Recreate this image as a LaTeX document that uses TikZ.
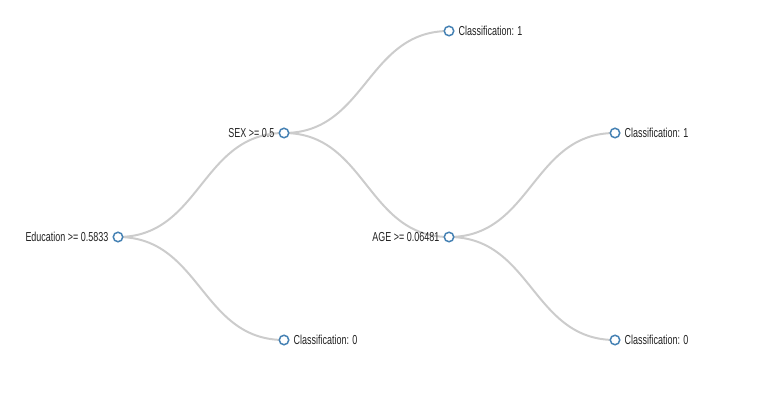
\documentclass[tikz,border=0pt]{standalone}
\usepackage{fontspec}
\setmainfont{Liberation Sans}[FakeStretch=0.69]
\definecolor{steel}{HTML}{4682B4}
\definecolor{linkgray}{HTML}{CCCCCC}
\definecolor{txt}{HTML}{222222}
\tikzset{
  circ/.style={circle, draw=steel, fill=white, line width=1.5pt, minimum size=9.5pt, inner sep=0pt},
  link/.style={draw=linkgray, line width=2pt},
  lblr/.style={anchor=base west, inner sep=0pt, font=\fontsize{13}{15}\selectfont, text=txt},
  lbll/.style={anchor=base east, inner sep=0pt, font=\fontsize{13}{15}\selectfont, text=txt},
}
\begin{document}
\begin{tikzpicture}[x=1pt, y=-1pt]
\useasboundingbox (0,0) rectangle (758,414);
% node positions
\coordinate (pr) at (118,237);
\coordinate (ps) at (284,133);
\coordinate (pc0) at (284,340);
\coordinate (pc1) at (449,31);
\coordinate (pa) at (449,237);
\coordinate (pc2) at (615,133);
\coordinate (pc3) at (615,340);
% links
\draw[link] (pr) .. controls +(83,0) and +(-83,0) .. (ps);
\draw[link] (pr) .. controls +(83,0) and +(-83,0) .. (pc0);
\draw[link] (ps) .. controls +(82.5,0) and +(-82.5,0) .. (pc1);
\draw[link] (ps) .. controls +(82.5,0) and +(-82.5,0) .. (pa);
\draw[link] (pa) .. controls +(83,0) and +(-83,0) .. (pc2);
\draw[link] (pa) .. controls +(83,0) and +(-83,0) .. (pc3);
% circles
\node[circ] (r) at (pr) {};
\node[circ] (s) at (ps) {};
\node[circ] (c0) at (pc0) {};
\node[circ] (c1) at (pc1) {};
\node[circ] (a) at (pa) {};
\node[circ] (c2) at (pc2) {};
\node[circ] (c3) at (pc3) {};
% labels
\node[lbll] (lr) at ([xshift=-9.5pt, yshift=-4.5pt]r.center) {Education >= 0.5833};
\node[lbll] (ls) at ([xshift=-9.5pt, yshift=-4.5pt]s.center) {SEX >= 0.5};
\node[lbll] (la) at ([xshift=-9.5pt, yshift=-4.5pt]a.center) {AGE >= 0.06481};
\node[lblr] (lc0) at ([xshift=9.5pt, yshift=-4.5pt]c0.center) {Classification: 0};
\node[lblr] (lc1) at ([xshift=9.5pt, yshift=-4.5pt]c1.center) {Classification: 1};
\node[lblr] (lc2) at ([xshift=9.5pt, yshift=-4.5pt]c2.center) {Classification: 1};
\node[lblr] (lc3) at ([xshift=9.5pt, yshift=-4.5pt]c3.center) {Classification: 0};
\end{tikzpicture}
\end{document}
